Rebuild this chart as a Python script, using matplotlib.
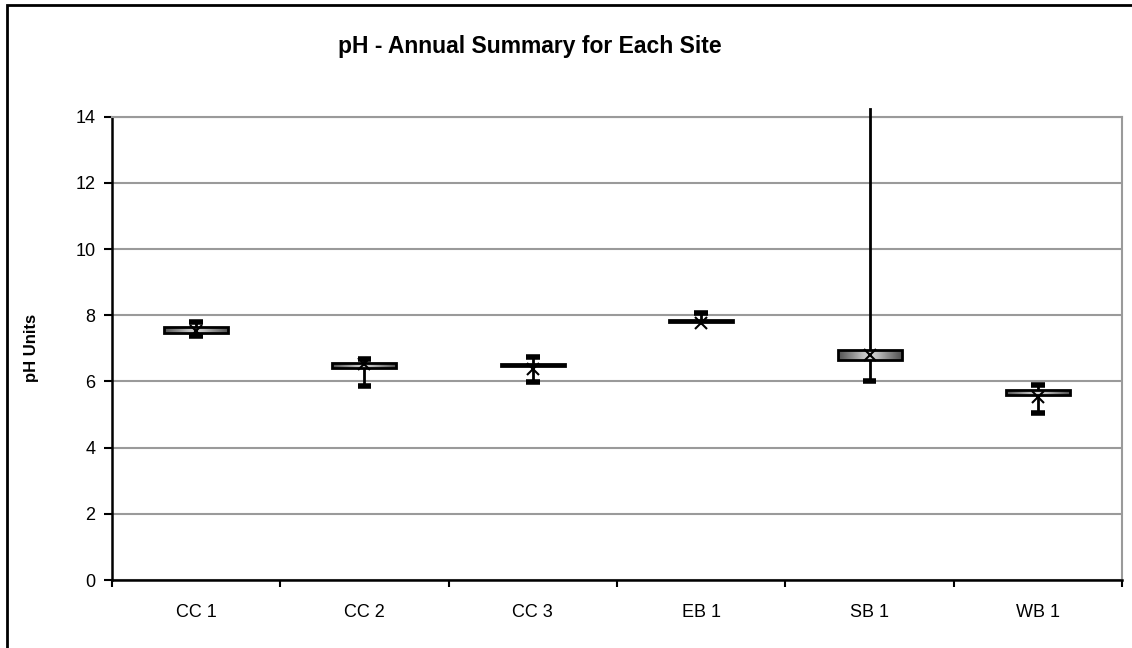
import matplotlib.pyplot as plt
import numpy as np
from matplotlib.patches import Rectangle

plt.rcParams['font.family'] = ['Liberation Sans', 'DejaVu Sans']

# values
sites = ['CC 1', 'CC 2', 'CC 3', 'EB 1', 'SB 1', 'WB 1']
q1 = [7.45, 6.41, 6.48, 7.80, 6.65, 5.60]
q3 = [7.65, 6.56, 6.54, 7.86, 6.95, 5.74]
lo = [7.38, 5.87, 5.99, 7.80, 6.00, 5.05]
hi = [7.79, 6.69, 6.75, 8.08, 15.0, 5.88]
mean = [7.53, 6.52, 6.37, 7.76, 6.80, 5.54]
yticks = [0, 2, 4, 6, 8, 10, 12, 14]

fig = plt.figure(figsize=(11.32, 6.48), dpi=100)
ax = fig.add_axes([0.0989, 0.1049, 0.8923, 0.715])

# outer chart frame (cropped on right/bottom like the reference)
fig.patches.append(Rectangle((7 / 1132, -0.1), 1.2, 1 - 5 / 648 + 0.1,
                             transform=fig.transFigure, fill=False,
                             edgecolor='black', linewidth=2))

ax.set_xlim(-0.5, 5.5)
ax.set_ylim(0, 14)
ax.set_yticks(yticks)
ax.yaxis.grid(True, color='#9a9a9a', linewidth=1.5)
ax.set_axisbelow(True)

ax.set_xticks(np.arange(len(sites)))
ax.set_xticklabels(sites, fontsize=13)
ax.set_xticks(np.arange(len(sites) + 1) - 0.5, minor=True)
ax.tick_params(axis='x', which='major', length=0, pad=17)
ax.tick_params(axis='x', which='minor', length=5, width=1.5, direction='out')
ax.tick_params(axis='y', length=6, width=1.5, labelsize=13, pad=6)

for s in ['left', 'bottom']:
    ax.spines[s].set_linewidth(1.8)
    ax.spines[s].set_color('black')
for s in ['right', 'top']:
    ax.spines[s].set_color('#9a9a9a')
    ax.spines[s].set_linewidth(1.5)

grad = np.abs(np.linspace(-1, 1, 200))[None, :]
bw = 0.19
cw = 0.04
for i in range(len(sites)):
    top = min(hi[i], 14.22)
    ax.plot([i, i], [lo[i], top], color='black', linewidth=2, clip_on=False, zorder=3)
    if hi[i] <= 14:
        ax.plot([i - cw, i + cw], [hi[i], hi[i]], color='black', linewidth=4,
                solid_capstyle='butt', zorder=3)
    if lo[i] < q1[i]:
        ax.plot([i - cw, i + cw], [lo[i], lo[i]], color='black', linewidth=4,
                solid_capstyle='butt', zorder=3)
    rect = Rectangle((i - bw, q1[i]), 2 * bw, q3[i] - q1[i], facecolor='none',
                     edgecolor='black', linewidth=2, zorder=5)
    ax.add_patch(rect)
    im = ax.imshow(grad, cmap='Greys', vmin=-0.5, vmax=1.5, aspect='auto',
                   extent=(i - bw, i + bw, q1[i], q3[i]), zorder=4)
    im.set_clip_path(rect)
    ax.plot(i, mean[i], marker='x', color='black', markersize=8,
            markeredgewidth=1.5, zorder=6)

ax.set_xlim(-0.5, 5.5)
ax.set_ylim(0, 14)

ax.set_ylabel('pH Units', fontsize=12, fontweight='bold')
ax.yaxis.set_label_coords(-0.072, 0.5)
fig.text(530 / 1132, 1 - 53 / 648, 'pH - Annual Summary for Each Site', ha='center',
         va='baseline', fontsize=16.5, fontweight='bold')

fig.savefig('out.png', dpi=100)
